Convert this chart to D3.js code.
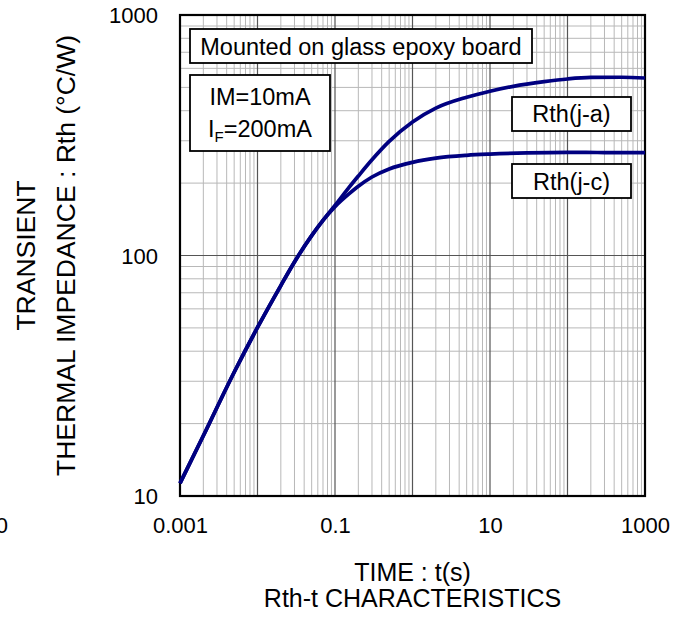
<!DOCTYPE html>
<html>
<head>
<meta charset="utf-8">
<script src="https://cdn.jsdelivr.net/npm/d3@7"></script>
<style>
  html, body { margin: 0; padding: 0; background: #fff; }
  svg { display: block; }
  text { font-family: "Liberation Sans", Arial, sans-serif; fill: #000; }
</style>
</head>
<body>
<div id="chart"></div>
<script>
// ---------- data ----------
const timeJA = [0.001, 0.002, 0.005, 0.01, 0.02, 0.03, 0.05, 0.07, 0.1, 0.15, 0.2, 0.3, 0.5, 1, 2, 5, 10, 20, 50, 100, 200, 500, 1000];
const rthJA  = [11.3, 17.8, 32.7, 50.2, 75, 94, 121, 140, 161.4, 191, 214, 250, 298, 359, 410, 455, 482, 505, 528, 542, 550, 551, 547];
const timeJC = [0.001, 0.002, 0.005, 0.01, 0.02, 0.03, 0.05, 0.07, 0.1, 0.15, 0.2, 0.3, 0.5, 1, 2, 5, 10, 30, 100, 300, 1000];
const rthJC  = [11.3, 17.8, 32.7, 50.2, 75, 94, 121, 140, 159.7, 180, 194, 212, 229, 244, 254, 261, 264, 267, 268.5, 268, 268];
const xTickLabels = [0.001, 0.1, 10, 1000];
const yTickLabels = [10, 100, 1000];
const seriesNames = ["Rth(j-a)", "Rth(j-c)"];
const noteLines = ["Mounted on glass epoxy board"];
const condLines = ["IM=10mA", "IF=200mA"];

// ---------- layout ----------
const W = 682, H = 622;
const L = 180, R = 645, T = 15, B = 496;

const svg = d3.select("#chart").append("svg").attr("width", W).attr("height", H);

const x = d3.scaleLog().domain([0.001, 1000]).range([L, R]);
const y = d3.scaleLog().domain([10, 1000]).range([B, T]);

// grid
const xAll = x.ticks();
const yAll = y.ticks();
const isMajor = v => Math.abs(Math.log10(v) - Math.round(Math.log10(v))) < 1e-9;

const grid = svg.append("g");
grid.selectAll(".vx").data(xAll.filter(v => !isMajor(v))).enter().append("line")
  .attr("x1", d => x(d)).attr("x2", d => x(d)).attr("y1", T).attr("y2", B)
  .attr("stroke", "#b8b8b8").attr("stroke-width", 1);
grid.selectAll(".hy").data(yAll.filter(v => !isMajor(v))).enter().append("line")
  .attr("y1", d => y(d)).attr("y2", d => y(d)).attr("x1", L).attr("x2", R)
  .attr("stroke", "#b8b8b8").attr("stroke-width", 1);
grid.selectAll(".vxm").data(xAll.filter(isMajor)).enter().append("line")
  .attr("x1", d => x(d)).attr("x2", d => x(d)).attr("y1", T).attr("y2", B)
  .attr("stroke", "#555").attr("stroke-width", 1.2);
grid.selectAll(".hym").data(yAll.filter(isMajor)).enter().append("line")
  .attr("y1", d => y(d)).attr("y2", d => y(d)).attr("x1", L).attr("x2", R)
  .attr("stroke", "#555").attr("stroke-width", 1.2);

// frame
svg.append("rect").attr("x", L).attr("y", T).attr("width", R - L).attr("height", B - T)
  .attr("fill", "none").attr("stroke", "#000").attr("stroke-width", 2.2);

// axes tick labels via d3 axes
const xAxis = d3.axisBottom(x).tickValues(xTickLabels).tickSize(0).tickPadding(0)
  .tickFormat(d => d >= 1 ? d3.format("d")(d) : String(d));
const gx = svg.append("g").attr("transform", `translate(0,${B})`).call(xAxis);
gx.select(".domain").remove();
gx.selectAll("text").attr("font-size", 22).attr("font-family", "Liberation Sans, Arial, sans-serif")
  .attr("fill", "#000").attr("dy", null).attr("y", 37);

const yAxis = d3.axisLeft(y).tickValues(yTickLabels).tickSize(0).tickPadding(0)
  .tickFormat(d3.format("d"));
const gy = svg.append("g").attr("transform", `translate(${L},0)`).call(yAxis);
gy.select(".domain").remove();
gy.selectAll("text").attr("font-size", 22).attr("font-family", "Liberation Sans, Arial, sans-serif")
  .attr("fill", "#000").attr("x", -22).attr("dy", "0.35em");

// stray clipped label at far left (as in the reference)
svg.append("text").attr("x", 8).attr("y", 533).attr("text-anchor", "end")
  .attr("font-size", 22).text("10");

// curves
const line = d3.line().x(d => x(d[0])).y(d => y(d[1])).curve(d3.curveMonotoneX);
const curveData = [d3.zip(timeJA, rthJA), d3.zip(timeJC, rthJC)];
svg.append("g").selectAll("path").data(curveData).enter().append("path")
  .attr("d", line).attr("fill", "none").attr("stroke", "#000080")
  .attr("stroke-width", 3.7).attr("stroke-linejoin", "round");

// boxes
function box(x0, y0, w, h) {
  svg.append("rect").attr("x", x0).attr("y", y0).attr("width", w).attr("height", h)
    .attr("fill", "#fff").attr("stroke", "#000").attr("stroke-width", 1.8);
}
box(190, 29, 342, 34);
svg.append("text").attr("x", 361).attr("y", 55).attr("text-anchor", "middle")
  .attr("font-size", 23.5).text(noteLines[0]);

box(190, 75, 140, 76);
svg.append("text").attr("x", 260).attr("y", 105).attr("text-anchor", "middle")
  .attr("font-size", 23.5).text(condLines[0]);
const t2 = svg.append("text").attr("x", 260).attr("y", 137).attr("text-anchor", "middle")
  .attr("font-size", 23.5);
t2.append("tspan").text(condLines[1].slice(0, 1));
t2.append("tspan").attr("font-size", 15).attr("dy", 5).text(condLines[1].slice(1, 2));
t2.append("tspan").attr("dy", -5).text(condLines[1].slice(2));

box(512, 97, 119, 34);
svg.append("text").attr("x", 571.5).attr("y", 122).attr("text-anchor", "middle")
  .attr("font-size", 23.5).text(seriesNames[0]);
box(512, 164, 119, 34);
svg.append("text").attr("x", 571.5).attr("y", 190).attr("text-anchor", "middle")
  .attr("font-size", 23.5).text(seriesNames[1]);

// axis titles
svg.append("text").attr("x", (L + R) / 2).attr("y", 581).attr("text-anchor", "middle")
  .attr("font-size", 25).text("TIME : t(s)");
svg.append("text").attr("x", (L + R) / 2).attr("y", 607).attr("text-anchor", "middle")
  .attr("font-size", 25).text("Rth-t CHARACTERISTICS");

const cy = (T + B) / 2;
svg.append("text").attr("transform", `translate(35,${cy}) rotate(-90)`)
  .attr("text-anchor", "middle").attr("font-size", 26.5).text("TRANSIENT");
svg.append("text").attr("transform", `translate(75,${cy}) rotate(-90)`)
  .attr("text-anchor", "middle").attr("font-size", 26.5).text("THERMAL IMPEDANCE : Rth (°C/W)");
</script>
</body>
</html>
